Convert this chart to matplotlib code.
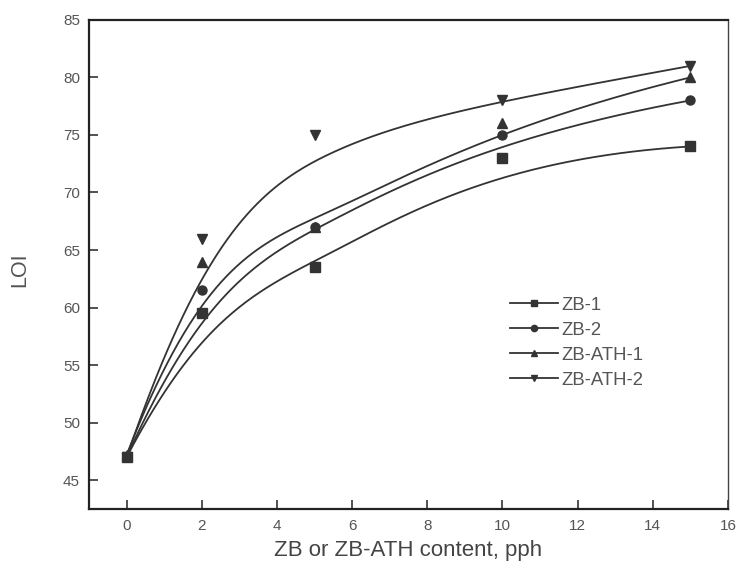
import numpy as np
import matplotlib
matplotlib.use("Agg")
import matplotlib.pyplot as plt

plt.rcParams['font.family'] = ['Liberation Sans', 'DejaVu Sans']

x = [0, 2, 5, 10, 15]
zb1 = [47.0, 59.5, 63.5, 73.0, 74.0]
zb2 = [47.0, 61.5, 67.0, 75.0, 78.0]
zbath1 = [47.2, 64.0, 67.0, 76.0, 80.0]
zbath2 = [47.0, 66.0, 75.0, 78.0, 81.0]
labels = ["ZB-1", "ZB-2", "ZB-ATH-1", "ZB-ATH-2"]
markers = ["s", "o", "^", "v"]
xticks = [0, 2, 4, 6, 8, 10, 12, 14, 16]
yticks = [45, 50, 55, 60, 65, 70, 75, 80, 85]


def bspline(px, py, n=300, k=3):
    """Clamped B-spline using the data points as control points (Origin style)."""
    px = np.asarray(px, float)
    py = np.asarray(py, float)
    m = len(px)
    inner = np.linspace(0, 1, m - k + 1)[1:-1]
    t = np.concatenate([np.zeros(k + 1), inner, np.ones(k + 1)])
    u = np.linspace(0, 1, n)
    u[-1] = 1 - 1e-12

    def basis(i, d, uu):
        if d == 0:
            return ((t[i] <= uu) & (uu < t[i + 1])).astype(float)
        a = np.zeros_like(uu)
        if t[i + d] != t[i]:
            a = (uu - t[i]) / (t[i + d] - t[i]) * basis(i, d - 1, uu)
        b = np.zeros_like(uu)
        if t[i + d + 1] != t[i + 1]:
            b = (t[i + d + 1] - uu) / (t[i + d + 1] - t[i + 1]) * basis(i + 1, d - 1, uu)
        return a + b

    B = np.array([basis(i, k, u) for i in range(m)])
    return B.T @ px, B.T @ py


fig = plt.figure(figsize=(7.36, 5.68), dpi=100)
ax = fig.add_axes([0.121, 0.104, 0.868, 0.861])

col = "#333333"
for ys, lab, mk in zip([zb1, zb2, zbath1, zbath2], labels, markers):
    cx, cy = bspline(x, ys)
    ax.plot(cx, cy, color=col, lw=1.3)
    ax.plot(x, ys, linestyle="none", marker=mk, color=col, ms=6.5)
    ax.plot([], [], color=col, lw=1.3, marker=mk, ms=4.5, label=lab)

ax.set_xlim(-1, 16)
ax.set_ylim(42.5, 85)
ax.set_xticks(xticks)
ax.set_yticks(yticks)
ax.tick_params(direction="in", length=6.5, width=1.2, colors="#333333",
               labelcolor="#555555", labelsize=11, top=False, right=False)
ax.tick_params(axis="x", pad=7.5)
ax.tick_params(axis="y", pad=6.5)
for s in ["left", "bottom", "top"]:
    ax.spines[s].set_linewidth(1.6)
    ax.spines[s].set_color("#222222")
ax.spines["right"].set_linewidth(1.0)
ax.spines["right"].set_color("#444444")

ax.set_xlabel("ZB or ZB-ATH content, pph", fontsize=16, color="#444444", va="center")
ax.xaxis.set_label_coords(0.5, -0.086)
ax.set_ylabel("LOI", fontsize=15.5, color="#555555", va="center")
ax.yaxis.set_label_coords(-0.108, 0.489)

leg = ax.legend(loc="upper left", bbox_to_anchor=(0.659, 0.4335), frameon=False,
                fontsize=13.3, handlelength=2.6, labelspacing=0.43, handletextpad=0.2,
                labelcolor="#555555", borderaxespad=0, borderpad=0)

fig.savefig("out.png", dpi=100, facecolor="white")
